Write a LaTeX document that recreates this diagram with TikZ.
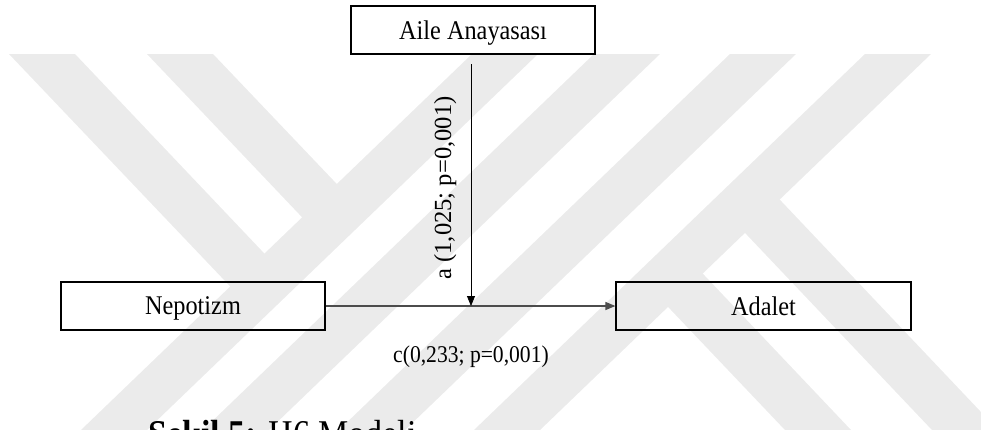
\documentclass[tikz,border=0pt]{standalone}
\usepackage{fontspec}
\setmainfont[FakeStretch=0.9]{Liberation Serif}
\newfontfamily\plainserif{Liberation Serif}
\usetikzlibrary{arrows.meta}

\begin{document}
\begin{tikzpicture}[x=1bp, y=-1bp]
                \tikzstyle{stripe} = [fill=black!8]
                \tikzstyle{box} = [draw, line width=1.2bp, inner sep=0pt, text depth=0pt, font=\fontsize{27bp}{30bp}\selectfont]
                \tikzstyle{link} = [-{Triangle[length=10bp, width=8bp]}]
                \tikzstyle{value} = [font=\fontsize{24bp}{28bp}\selectfont]
                \useasboundingbox (0, 0) rectangle (981, 429);
                \clip (0, 0) rectangle (981, 429);
                \fill[stripe] (9, 54) -- (75, 54) -- (280, 270) -- (246, 303) -- cycle;
                \fill[stripe] (147, 54) -- (213, 54) -- (353, 201) -- (318, 234) -- cycle;
                \fill[stripe] (472, 54) -- (538, 54) -- (147, 430) -- (81, 430) -- cycle;
                \fill[stripe] (594, 54) -- (660, 54) -- (269, 430) -- (203, 430) -- cycle;
                \fill[stripe] (730, 54) -- (796, 54) -- (405, 430) -- (339, 430) -- cycle;
                \fill[stripe] (865, 54) -- (931, 54) -- (540, 430) -- (474, 430) -- cycle;
                \fill[stripe] (652, 290) -- (687, 257) -- (851, 430) -- (785, 430) -- cycle;
                \fill[stripe] (729, 216) -- (764, 183) -- (998, 430) -- (932, 430) -- cycle;
                \node[box, minimum width=244bp, minimum height=48bp] (aile) at (473, 30) {Aile Anayasası};
                \node[box, minimum width=264bp, minimum height=48bp] (nepotizm) at (193, 306) {Nepotizm};
                \node[box, minimum width=295bp, minimum height=48bp] (adalet) at (763.5, 306) {Adalet};
                \coordinate (moderator) at (471, 64);
                \draw[link, line width=1.2bp, color=black!70] (nepotizm) -- (adalet);
                \draw[link, line width=0.8bp] (moderator) -- (moderator |- nepotizm.east);
                \node[value, anchor=base] (cpath) at (471, 362) {c(0,233; p=0,001)};
                \node[rotate=90, anchor=base, font=\plainserif\fontsize{24.6bp}{28bp}\selectfont] (apath) at (451, 188) {a (1,025; p=0,001)};
                \node[anchor=base west, font=\fontsize{37.8bp}{40bp}\selectfont] (caption) at (145, 446) {\textbf{Şekil 5:} H6 Modeli};
\end{tikzpicture}
\end{document}
